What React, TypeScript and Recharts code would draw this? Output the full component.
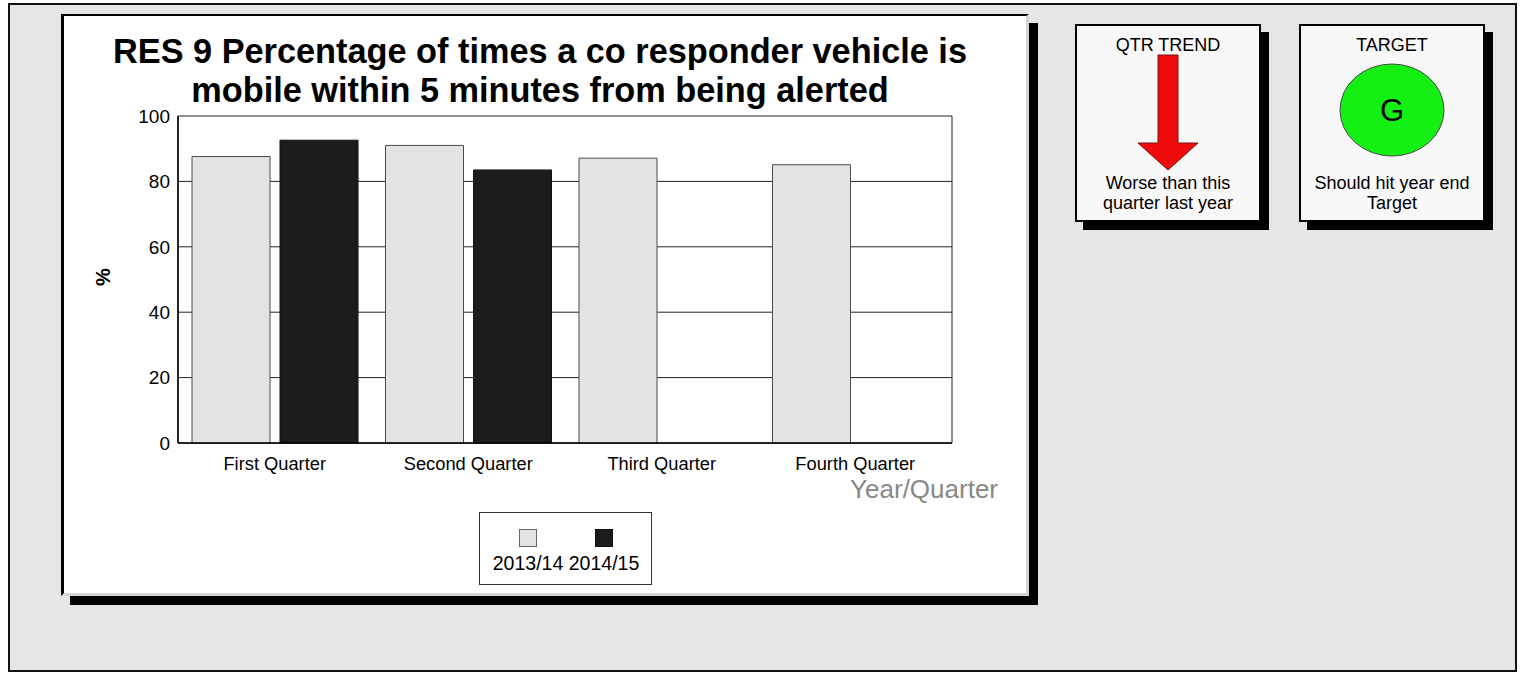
import React from 'react';
import { BarChart, Bar, XAxis, YAxis, CartesianGrid } from 'recharts';

const categories = ['First Quarter', 'Second Quarter', 'Third Quarter', 'Fourth Quarter'];
const series2013 = [87.6, 91.0, 87.1, 85.1];
const series2014: (number | null)[] = [92.6, 83.5, null, null];
const seriesNames = ['2013/14', '2014/15'];
const yTicks = [0, 20, 40, 60, 80, 100];

const data = categories.map((c, i) => ({ name: c, a: series2013[i], b: series2014[i] }));

const FONT = '"Liberation Sans", Arial, Helvetica, sans-serif';
const colors = ['#e3e3e3', '#1c1c1c'];
const strokes = ['#4a4a4a', '#111111'];

const abs = (l: number, t: number, w: number, h: number): React.CSSProperties => ({
  position: 'absolute', left: l, top: t, width: w, height: h, boxSizing: 'border-box',
});

export default function App() {
  return (
    <div style={{ position: 'absolute', left: 0, top: 0, width: 1521, height: 674, fontFamily: FONT, background: '#fff' }}>
      {/* outer frame */}
      <div style={{ ...abs(8, 3, 1509, 669), border: '2px solid #111', background: '#e6e6e6' }} />
      {/* chart panel */}
      <div style={{ ...abs(61, 14, 968, 582), background: '#fff', borderLeft: '3px solid #000', borderTop: '2px solid #000', borderRight: '3px solid #d4d4d4', borderBottom: '3px solid #d4d4d4', boxShadow: '9px 9px 0 #000' }} />
      {/* title */}
      <div style={{ ...abs(40, 32, 1000, 80), textAlign: 'center', fontWeight: 'bold', fontSize: 34.3, lineHeight: '39px', color: '#000', whiteSpace: 'nowrap' }}>
        RES 9 Percentage of times a co responder vehicle is<br />mobile within 5 minutes from being alerted
      </div>
      {/* chart */}
      <div style={{ position: 'absolute', left: 0, top: 0 }}>
        <BarChart width={1040} height={600} data={data} margin={{ top: 116, right: 88, bottom: 127, left: 118 }} barCategoryGap={14} barGap={10}>
          <CartesianGrid
            stroke="#222"
            strokeWidth={1}
            verticalCoordinatesGenerator={({ offset }: any) => [offset.left, offset.left + offset.width]}
          />
          <XAxis dataKey="name" height={30} tickLine={false} tickMargin={8} axisLine={{ stroke: '#000', strokeWidth: 1.5 }} tick={{ fontSize: 18.3, fill: '#000', fontFamily: FONT }} interval={0} />
          <YAxis width={60} domain={[0, 100]} ticks={yTicks} tickLine={false} axisLine={{ stroke: '#000', strokeWidth: 1.5 }} tick={{ fontSize: 19, fill: '#000', fontFamily: FONT }} />
          <Bar dataKey="a" name={seriesNames[0]} fill={colors[0]} stroke={strokes[0]} strokeWidth={1} isAnimationActive={false} />
          <Bar dataKey="b" name={seriesNames[1]} fill={colors[1]} stroke={strokes[1]} strokeWidth={1} isAnimationActive={false} />
        </BarChart>
      </div>
      {/* y label */}
      <div style={{ position: 'absolute', left: 103, top: 277, transform: 'translate(-50%, -50%) rotate(-90deg)', fontWeight: 'bold', fontSize: 20, lineHeight: '22px' }}>%</div>
      {/* x axis title */}
      <div style={{ position: 'absolute', right: 1521 - 998, top: 474, fontSize: 26, lineHeight: '30px', color: '#888', whiteSpace: 'nowrap' }}>Year/Quarter</div>
      {/* legend */}
      <div style={{ ...abs(479, 512, 173, 73), border: '1px solid #333', background: '#fff' }}>
        {seriesNames.map((n, i) => (
          <div key={n} style={{ position: 'absolute', left: i === 0 ? 12 : 88, top: 0, width: 72, textAlign: 'center' }}>
            <div style={{ width: 18, height: 18, boxSizing: 'border-box', margin: '16px auto 0', background: colors[i], border: `1px solid ${i === 0 ? '#666' : '#111'}` }} />
            <div style={{ fontSize: 19.5, lineHeight: '22px', marginTop: 5, whiteSpace: 'nowrap' }}>{n}</div>
          </div>
        ))}
      </div>
      {/* QTR TREND box */}
      <div style={{ ...abs(1075, 24, 186, 198), border: '2px solid #000', background: '#f8f8f8', boxShadow: '8px 8px 0 #000', textAlign: 'center' }}>
        <div style={{ position: 'absolute', left: 0, right: 0, top: 9, fontSize: 18, lineHeight: '21px' }}>QTR TREND</div>
        <svg style={{ position: 'absolute', left: 0, top: 0 }} width={182} height={194}>
          <polygon points="81,29 101,29 101,117 121,117 91,144 61,117 81,117" fill="#ee0b0b" stroke="#7a1010" strokeWidth={1} />
        </svg>
        <div style={{ position: 'absolute', left: 0, right: 0, top: 147, fontSize: 18, lineHeight: '20px', whiteSpace: 'nowrap' }}>Worse than this<br />quarter last year</div>
      </div>
      {/* TARGET box */}
      <div style={{ ...abs(1299, 24, 186, 198), border: '2px solid #000', background: '#f8f8f8', boxShadow: '8px 8px 0 #000', textAlign: 'center' }}>
        <div style={{ position: 'absolute', left: 0, right: 0, top: 9, fontSize: 18, lineHeight: '21px' }}>TARGET</div>
        <svg style={{ position: 'absolute', left: 0, top: 0 }} width={182} height={194}>
          <ellipse cx={91} cy={84} rx={52} ry={46} fill="#14f014" stroke="#4a4a4a" strokeWidth={1} />
          <text x={91} y={95} textAnchor="middle" fontSize={31} fontFamily={FONT} fill="#000">G</text>
        </svg>
        <div style={{ position: 'absolute', left: 0, right: 0, top: 147, fontSize: 18, lineHeight: '20px', whiteSpace: 'nowrap' }}>Should hit year end<br />Target</div>
      </div>
    </div>
  );
}
